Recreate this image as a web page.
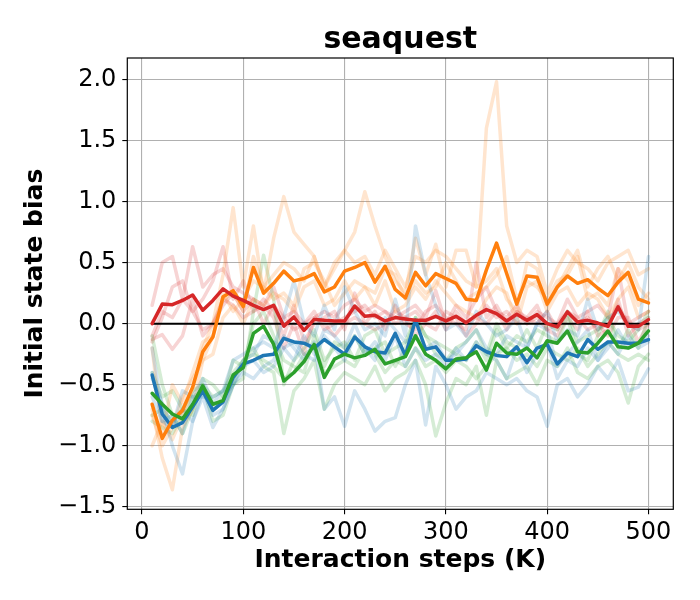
<!DOCTYPE html>
<html>
<head>
<meta charset="utf-8">
<script src="https://cdn.jsdelivr.net/npm/chart.js@4.4.0/dist/chart.umd.min.js"></script>
<style>
  html, body { margin: 0; padding: 0; background: #fff; }
  canvas { display: block; }
</style>
</head>
<body>
<canvas id="myChart" width="700" height="600"></canvas>
<script>
// x positions (K interaction steps)
const steps = [
    10, 20, 30, 40, 50, 60, 70, 80, 90, 100,
    110, 120, 130, 140, 150, 160, 170, 180, 190, 200,
    210, 220, 230, 240, 250, 260, 270, 280, 290, 300,
    310, 320, 330, 340, 350, 360, 370, 380, 390, 400,
    410, 420, 430, 440, 450, 460, 470, 480, 490, 500,
];
const xTicks = [0, 100, 200, 300, 400, 500];
const yTicks = [-1.5, -1.0, -0.5, 0.0, 0.5, 1.0, 1.5, 2.0];

// mean curves
const meanBlue = [
    -0.42, -0.74, -0.85, -0.81, -0.68, -0.55, -0.71, -0.64, -0.44, -0.33,
    -0.30, -0.26, -0.25, -0.12, -0.15, -0.16, -0.20, -0.13, -0.19, -0.25,
    -0.11, -0.19, -0.23, -0.24, -0.08, -0.26, 0.03, -0.21, -0.19, -0.30,
    -0.30, -0.29, -0.18, -0.23, -0.26, -0.27, -0.19, -0.32, -0.20, -0.17,
    -0.33, -0.24, -0.27, -0.13, -0.21, -0.15, -0.15, -0.16, -0.16, -0.13,
];
const meanOrange = [
    -0.66, -0.94, -0.79, -0.71, -0.52, -0.23, -0.11, 0.22, 0.27, 0.14,
    0.46, 0.25, 0.33, 0.43, 0.35, 0.37, 0.41, 0.26, 0.30, 0.43,
    0.46, 0.50, 0.34, 0.47, 0.28, 0.21, 0.42, 0.31, 0.41, 0.37,
    0.33, 0.20, 0.19, 0.44, 0.66, 0.41, 0.16, 0.39, 0.38, 0.16,
    0.30, 0.39, 0.33, 0.36, 0.29, 0.23, 0.34, 0.42, 0.20, 0.17,
];
const meanGreen = [
    -0.57, -0.66, -0.74, -0.78, -0.66, -0.51, -0.66, -0.63, -0.42, -0.36,
    -0.08, -0.02, -0.17, -0.47, -0.40, -0.31, -0.17, -0.44, -0.29, -0.25,
    -0.28, -0.26, -0.21, -0.33, -0.30, -0.27, -0.10, -0.25, -0.30, -0.37,
    -0.29, -0.28, -0.23, -0.38, -0.16, -0.24, -0.25, -0.20, -0.28, -0.14,
    -0.16, -0.06, -0.23, -0.24, -0.16, -0.06, -0.19, -0.20, -0.16, -0.06,
];
const meanRed = [
    0.0, 0.16, 0.155, 0.19, 0.235, 0.11, 0.19, 0.285, 0.225, 0.19,
    0.15, 0.115, 0.15, -0.02, 0.055, -0.055, 0.035, 0.027, 0.022, 0.022,
    0.144, 0.06, 0.068, 0.022, 0.05, 0.038, 0.027, 0.027, 0.06, 0.022,
    0.06, 0.008, 0.068, 0.115, 0.082, 0.022, 0.077, 0.027, 0.074, 0.0,
    -0.027, 0.096, 0.014, 0.027, 0.005, -0.022, 0.137, -0.022, -0.022, 0.033,
];

// individual runs (faint)
const runsBlue = [
    [-0.2, -0.7, -1.0, -1.23, -0.8, -0.6, -0.85, -0.7, -0.5, -0.4,
     -0.45, -0.35, -0.3, -0.1, -0.2, -0.3, -0.15, -0.7, -0.6, -0.84,
     -0.55, -0.7, -0.88, -0.8, -0.77, -0.5, -0.3, -0.83, -0.35, -0.5,
     -0.7, -0.6, -0.55, -0.4, -0.45, -0.5, -0.45, -0.55, -0.6, -0.84,
     -0.5, -0.45, -0.6, -0.5, -0.35, -0.45, -0.3, -0.55, -0.52, -0.37],
    [-0.6, -0.8, -0.75, -0.9, -0.6, -0.45, -0.65, -0.55, -0.3, -0.25,
     -0.2, -0.15, -0.2, 0.05, 0.35, 0.0, -0.1, 0.15, -0.05, 0.3,
     0.1, -0.05, 0.0, -0.1, 0.2, -0.1, 0.8, 0.4, 0.15, -0.05,
     0.0, -0.1, 0.1, 0.0, -0.1, -0.05, 0.05, -0.2, 0.0, 0.1,
     -0.15, -0.05, -0.1, 0.2, -0.05, 0.05, 0.1, 0.0, -0.05, 0.55],
    [-0.45, -0.65, -0.85, -0.7, -0.8, -0.55, -0.75, -0.7, -0.5, -0.35,
     -0.3, -0.4, -0.35, -0.2, -0.15, -0.25, -0.3, -0.1, -0.2, -0.3,
     -0.1, -0.25, -0.15, -0.3, -0.1, -0.35, -0.2, -0.3, -0.25, -0.35,
     -0.2, -0.3, -0.15, -0.25, -0.3, -0.45, -0.2, -0.4, -0.25, -0.15,
     -0.45, -0.3, -0.35, -0.2, -0.3, -0.15, -0.25, -0.1, -0.2, -0.15],
    [-0.4, -0.8, -0.85, -0.55, -0.6, -0.6, -0.6, -0.55, -0.45, -0.3,
     -0.25, -0.1, -0.15, -0.2, -0.3, -0.1, -0.25, -0.05, -0.1, -0.2,
     0.0, -0.2, -0.3, 0.05, -0.05, -0.15, -0.1, -0.2, -0.15, -0.3,
     -0.25, -0.15, -0.05, -0.2, -0.25, -0.1, -0.15, -0.2, 0.0, -0.05,
     -0.35, -0.25, -0.15, -0.05, -0.3, -0.2, -0.05, -0.2, -0.15, -0.1],
];
const runsOrange = [
    [-0.75, -1.0, -0.85, -0.6, -0.45, -0.3, -0.1, 0.2, 0.25, 0.1,
     0.55, 0.3, 0.4, 0.5, 0.45, 0.35, 0.55, 0.3, 0.45, 0.6,
     0.5, 0.55, 0.4, 0.6, 0.45, 0.3, 0.55, 0.5, 0.6, 0.55,
     0.45, 0.35, 0.3, 1.6, 1.98, 0.8, 0.5, 0.6, 0.55, 0.25,
     0.45, 0.6, 0.5, 0.45, 0.35, 0.5, 0.55, 0.6, 0.4, 0.45],
    [-1.0, -0.8, -0.95, -0.75, -0.55, -0.2, 0.0, 0.4, 0.95, 0.3,
     0.8, 0.25, 0.7, 1.04, 0.75, 0.65, 0.55, 0.3, 0.5, 0.6,
     0.75, 1.08, 0.8, 0.55, 0.35, 0.25, 0.7, 0.4, 0.65, 0.3,
     0.6, 0.6, 0.3, 0.35, 0.45, 0.2, 0.1, 0.5, 0.45, 0.15,
     0.3, 0.45, 0.6, 0.3, 0.45, 0.55, 0.35, 0.5, 0.3, 0.2],
    [-0.7, -1.1, -1.36, -0.85, -0.7, -0.3, -0.25, 0.05, 0.15, 0.0,
     0.2, 0.15, 0.25, 0.2, 0.1, 0.3, 0.35, 0.15, 0.2, 0.35,
     0.2, 0.3, 0.15, 0.35, 0.1, 0.15, 0.3, 0.2, 0.35, 0.25,
     0.15, 0.1, 0.05, 0.2, 0.3, 0.25, 0.0, 0.3, 0.35, 0.1,
     0.25, 0.3, 0.15, 0.25, 0.2, 0.05, 0.2, 0.3, 0.05, 0.1],
    [-0.2, -0.9, -0.5, -0.65, -0.4, -0.15, -0.1, 0.25, 0.1, 0.2,
     0.35, 0.3, 0.2, 0.25, 0.15, 0.45, 0.5, 0.35, 0.15, 0.25,
     0.35, 0.3, 0.25, 0.45, 0.4, 0.2, 0.35, 0.25, 0.3, 0.5,
     0.35, 0.2, 0.25, 0.3, 0.4, 0.55, 0.2, 0.35, 0.3, 0.2,
     0.35, 0.4, 0.55, 0.2, 0.25, 0.15, 0.45, 0.35, 0.15, 0.25],
];
const runsGreen = [
    [-0.1, -0.5, -0.75, -0.9, -0.7, -0.5, -0.8, -0.75, -0.5, -0.45,
     0.1, 0.56, 0.2, -0.5, -0.3, -0.2, -0.05, -0.3, -0.2, -0.15,
     -0.3, -0.1, -0.05, -0.25, -0.2, -0.15, 0.05, -0.1, -0.25, -0.3,
     -0.2, -0.15, -0.05, -0.25, 0.0, -0.15, -0.2, -0.05, -0.2, 0.0,
     -0.05, 0.1, -0.15, -0.1, -0.05, 0.05, -0.1, -0.15, -0.05, 0.1],
    [-0.8, -0.85, -0.9, -0.75, -0.6, -0.55, -0.7, -0.6, -0.5, -0.3,
     -0.2, -0.35, -0.4, -0.9, -0.55, -0.45, -0.3, -0.7, -0.5, -0.4,
     -0.45, -0.5, -0.35, -0.55, -0.45, -0.4, -0.3, -0.5, -0.92, -0.65,
     -0.45, -0.5, -0.35, -0.75, -0.3, -0.45, -0.4, -0.35, -0.5, -0.3,
     -0.35, -0.2, -0.4, -0.45, -0.35, -0.3, -0.4, -0.65, -0.35, -0.25],
    [-0.4, -0.6, -0.55, -0.7, -0.75, -0.45, -0.5, -0.6, -0.3, -0.35,
     0.0, 0.1, -0.1, -0.3, -0.35, -0.4, -0.1, -0.35, -0.15, -0.2,
     -0.1, -0.25, -0.2, -0.15, -0.35, -0.2, 0.05, -0.1, -0.15, -0.2,
     -0.25, -0.3, -0.15, -0.3, -0.05, -0.2, -0.1, -0.15, -0.05, -0.1,
     -0.15, 0.05, -0.25, -0.3, -0.1, 0.1, -0.2, -0.05, -0.2, 0.05],
    [-0.75, -0.7, -0.8, -0.7, -0.55, -0.5, -0.6, -0.55, -0.4, -0.3,
     -0.25, -0.3, -0.35, -0.45, -0.4, -0.25, -0.2, -0.4, -0.35, -0.3,
     -0.35, -0.2, -0.25, -0.4, -0.3, -0.35, -0.2, -0.35, -0.3, -0.4,
     -0.3, -0.35, -0.45, -0.35, -0.25, -0.2, -0.3, -0.25, -0.35, -0.2,
     -0.25, -0.3, -0.2, -0.35, -0.25, -0.15, -0.25, -0.3, -0.25, -0.3],
];
const runsRed = [
    [0.15, 0.5, 0.55, 0.2, 0.63, 0.3, 0.4, 0.45, 0.3, 0.25,
     0.2, 0.15, 0.3, 0.05, 0.1, 0.0, 0.05, 0.1, 0.05, 0.15,
     0.2, 0.1, 0.15, 0.1, 0.05, 0.1, 0.15, 0.05, 0.27, 0.0,
     0.15, 0.05, 0.2, 0.3, 0.1, 0.05, 0.15, 0.0, 0.1, 0.05,
     0.0, 0.2, 0.05, 0.1, 0.15, 0.05, 0.45, 0.0, 0.05, 0.1],
    [-0.15, 0.05, 0.3, 0.35, 0.1, 0.2, 0.35, 0.63, 0.2, 0.35,
     0.1, 0.2, 0.1, -0.1, 0.15, -0.15, 0.0, 0.05, 0.1, -0.05,
     0.25, 0.0, 0.1, -0.05, 0.15, 0.0, -0.05, 0.1, 0.15, 0.05,
     0.0, -0.05, 0.5, 0.05, 0.15, 0.0, 0.1, 0.05, 0.15, -0.05,
     -0.1, 0.05, -0.05, 0.1, -0.1, -0.05, 0.2, -0.1, 0.0, 0.05],
    [-0.13, -0.09, -0.21, -0.1, 0.2, -0.1, 0.0, 0.15, 0.25, 0.1,
     0.2, 0.0, 0.15, 0.05, -0.05, 0.0, 0.1, -0.05, 0.0, 0.05,
     0.1, 0.15, 0.05, 0.1, 0.0, 0.05, 0.1, 0.0, -0.05, 0.1,
     0.05, -0.1, 0.0, 0.15, 0.05, 0.1, 0.0, 0.05, 0.0, 0.1,
     -0.05, 0.1, 0.05, -0.05, 0.0, -0.1, 0.05, 0.05, -0.15, 0.0],
    [-0.1, 0.1, 0.05, 0.2, 0.1, -0.05, 0.0, 0.2, 0.15, 0.05,
     0.1, 0.15, 0.05, -0.2, 0.0, -0.25, 0.05, 0.0, -0.1, 0.0,
     0.05, 0.0, -0.05, 0.0, 0.1, 0.05, -0.1, 0.0, 0.1, -0.05,
     0.1, 0.0, 0.05, 0.0, 0.1, -0.05, 0.1, 0.0, 0.05, -0.05,
     0.0, 0.1, 0.0, 0.05, -0.05, 0.0, 0.15, 0.0, -0.05, 0.0],
];
const zeroLine = [0, 0];
const zeroSteps = [10, 500];

const colors = {
    blue: "31, 119, 180",
    orange: "255, 127, 14",
    green: "44, 160, 44",
    red: "214, 39, 40",
};

const toPoints = (xs, ys) => xs.map((x, i) => ({ x: x, y: ys[i] }));

const datasets = [];

// mean lines on top (lower order = drawn last)
[
    ["red", meanRed, 1],
    ["green", meanGreen, 2],
    ["orange", meanOrange, 3],
    ["blue", meanBlue, 4],
].forEach(([name, ys, order]) => {
    datasets.push({
        data: toPoints(steps, ys),
        borderColor: "rgb(" + colors[name] + ")",
        borderWidth: 3.5,
        order: order,
    });
});

datasets.push({
    data: toPoints(zeroSteps, zeroLine),
    borderColor: "#000",
    borderWidth: 2,
    order: 5,
});

[
    ["blue", runsBlue],
    ["orange", runsOrange],
    ["green", runsGreen],
    ["red", runsRed],
].forEach(([name, runs]) => {
    runs.forEach((ys) => {
        datasets.push({
            data: toPoints(steps, ys),
            borderColor: "rgba(" + colors[name] + ", 0.2)",
            borderWidth: 3.5,
            order: 10,
        });
    });
});

// black box round the plot area, like matplotlib spines
const frame = {
    id: "frame",
    afterDraw(chart) {
        const { ctx, chartArea: a } = chart;
        ctx.save();
        ctx.strokeStyle = "#000";
        ctx.lineWidth = 1.2;
        ctx.strokeRect(a.left, a.top, a.right - a.left, a.bottom - a.top);
        ctx.restore();
    },
};

const fmt = (v) => v.toFixed(1).replace("-", "\u2212");
const font = "DejaVu Sans";

const ctx = document.getElementById("myChart").getContext("2d");
const chart = new window.Chart(ctx, {
    type: "line",
    data: { datasets: datasets },
    plugins: [frame],
    options: {
        responsive: false,
        animation: false,
        devicePixelRatio: 1,
        layout: { padding: { left: 0, right: 26.7, top: 0, bottom: 0 } },
        elements: {
            point: { radius: 0 },
            line: { tension: 0, borderCapStyle: "round", borderJoinStyle: "round" },
        },
        plugins: {
            legend: { display: false },
            tooltip: { enabled: false },
            title: {
                display: true,
                text: "seaquest",
                fullSize: false,
                color: "#000",
                font: { family: font, size: 30, weight: "bold", lineHeight: 1.2 },
                padding: { top: 22, bottom: 0 },
            },
        },
        scales: {
            x: {
                type: "linear",
                min: -14.5,
                max: 524.5,
                afterBuildTicks: (s) => {
                    s.ticks = xTicks.map((v) => ({ value: v }));
                },
                afterFit: (s) => {
                    s.height = 90.7;
                },
                border: { display: false },
                grid: {
                    color: "#b0b0b0",
                    lineWidth: 1.1,
                    tickColor: "#000",
                    tickLength: 5,
                    tickWidth: 1.1,
                },
                ticks: {
                    color: "#000",
                    autoSkip: false,
                    maxRotation: 0,
                    padding: 4,
                    font: { family: font, size: 24 },
                    callback: (v) => String(v),
                },
                title: {
                    display: true,
                    text: "Interaction steps (K)",
                    color: "#000",
                    font: { family: font, size: 25, weight: "bold", lineHeight: 1.2 },
                    padding: { top: 0, bottom: 25 },
                },
            },
            y: {
                type: "linear",
                min: -1.52,
                max: 2.175,
                afterBuildTicks: (s) => {
                    s.ticks = yTicks.map((v) => ({ value: v }));
                },
                afterFit: (s) => {
                    s.width = 127.3;
                },
                border: { display: false },
                grid: {
                    color: "#b0b0b0",
                    lineWidth: 1.1,
                    tickColor: "#000",
                    tickLength: 5,
                    tickWidth: 1.1,
                },
                ticks: {
                    color: "#000",
                    autoSkip: false,
                    padding: 6,
                    font: { family: font, size: 24 },
                    callback: (v) => fmt(v),
                },
                title: {
                    display: true,
                    text: "Initial state bias",
                    color: "#000",
                    font: { family: font, size: 25, weight: "bold", lineHeight: 1.2 },
                    padding: { top: 20.5, bottom: 0 },
                },
            },
        },
    },
});
</script>
</body>
</html>
